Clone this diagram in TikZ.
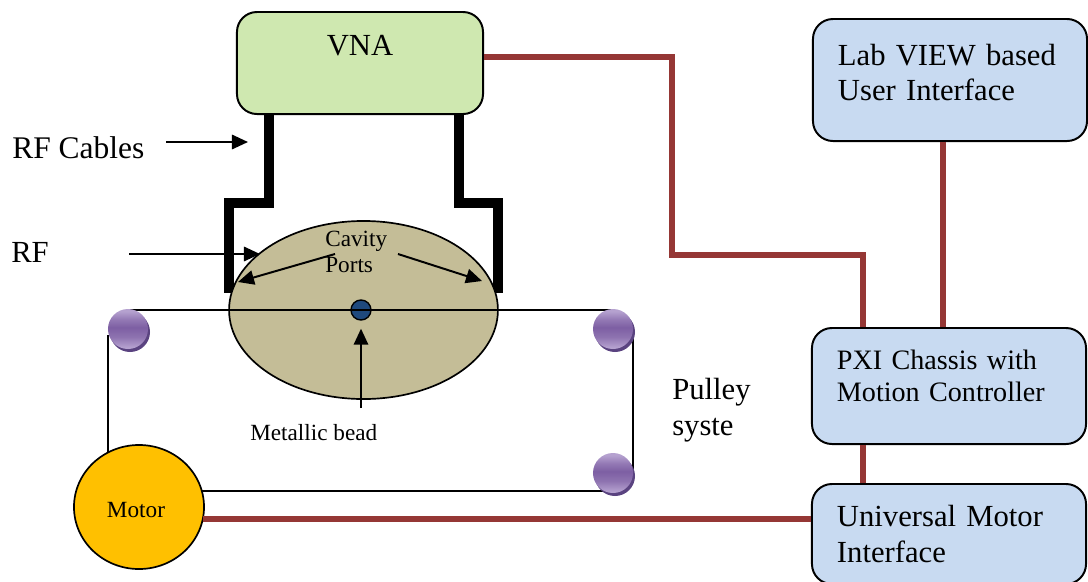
\documentclass[tikz,border=0pt]{standalone}
\usepackage{xcolor}
\usepackage{fontspec}
\setmainfont{Liberation Serif}
\usepackage{tikz}
\usetikzlibrary{arrows.meta}
\usetikzlibrary{calc}
\usetikzlibrary{shapes.geometric}
\definecolor{vnagreen}{HTML}{CFE8B0}
\definecolor{boxblue}{HTML}{C8DAF1}
\definecolor{linkred}{HTML}{953735}
\definecolor{cavitytan}{HTML}{C4BD97}
\definecolor{beadblue}{HTML}{1F497D}
\definecolor{motorgold}{HTML}{FFC000}
\definecolor{pulleydark}{HTML}{5A4380}
\definecolor{pulleymid}{HTML}{7D5FA3}
\definecolor{pulleylight}{HTML}{B5A1CF}
\pgfdeclareverticalshading{pulleyshade}{100bp}{
  color(0bp)=(pulleylight);
  color(27bp)=(pulleylight);
  color(40bp)=(pulleymid!70!pulleylight);
  color(52bp)=(pulleymid);
  color(62bp)=(pulleymid!60!pulleylight);
  color(72bp)=(pulleylight);
  color(100bp)=(pulleylight)}
\tikzset{
  bigtext/.style={font=\fontsize{21.8}{25.5}\selectfont},
  smalltext/.style={font=\fontsize{16.5}{19}\selectfont},
  ctrl/.style={draw=black, line width=1.4pt, rounded corners=0.5cm, fill=boxblue, align=left, inner xsep=0.625cm, inner ysep=0pt, text width=5.6cm, bigtext},
  link/.style={draw=linkred, line width=3.6pt},
  cable/.style={draw=black, line width=7.4pt, miter limit=10},
  wire/.style={draw=black, line width=1.3pt},
  pointer/.style={draw=black, line width=1.4pt, -{Triangle[length=0.4cm, width=0.36cm]}},
  pulley/.style={circle, minimum size=1cm, inner sep=0pt, shading=pulleyshade},
  pulleyback/.style={circle, minimum size=1cm, inner sep=0pt, fill=pulleydark}
}
\begin{document}
\begin{tikzpicture}[x=0.025cm, y=-0.025cm]
  \useasboundingbox (0,0) rectangle (1088,581);
  % boxes
  \node[draw=black, line width=1.4pt, rounded corners=0.5cm, fill=vnagreen, minimum width=6.15cm, inner ysep=0pt, bigtext, text height=1.075cm, text depth=1.475cm] (VNA) at (360,63) {VNA};
  \node[ctrl, text height=1.15cm, text depth=1.9cm] (LV) at (950,80) {Lab VIEW based\\User Interface};
  \node[ctrl, font=\fontsize{20}{23.4}\selectfont, text height=1.025cm, text depth=1.875cm] (PXI) at (949,386) {PXI Chassis with\\Motion Controller};
  \node[ctrl, text height=1.05cm, text depth=1.45cm, font=\fontsize{21.8}{26}\selectfont] (UMI) at (949,534) {Universal Motor\\Interface};
  % RF cables
  \coordinate (L1) at (269,114);
  \coordinate (L2) at (269,203);
  \coordinate (L3) at (229,203);
  \coordinate (L4) at (229,293);
  \coordinate (R1) at (459,114);
  \coordinate (R2) at (459,203);
  \coordinate (R3) at (498,203);
  \coordinate (R4) at (498,293);
  \draw[cable] (L1) -- (L2) -- (L3) -- (L4);
  \draw[cable] (R1) -- (R2) -- (R3) -- (R4);
  % cavity
  \node[ellipse, draw=black, line width=1.2pt, fill=cavitytan, minimum width=6.72cm, minimum height=4.45cm, inner sep=0pt] (CAV) at (363.5,310) {};
  % pulley wire
  \coordinate (W1) at (108,460);
  \coordinate (W2) at (108,335);
  \coordinate (W3) at (128,310);
  \coordinate (W4) at (613,310);
  \coordinate (W5) at (633,335);
  \coordinate (W6) at (633,470);
  \coordinate (W7) at (613,491);
  \coordinate (W8) at (190,491);
  \draw[wire] (W1) -- (W2);
  \draw[wire] (W3) -- (W4);
  \draw[wire] (W5) -- (W6);
  \draw[wire] (W7) -- (W8);
  % pulleys
  \node[pulleyback] (P1b) at (130,332) {};
  \node[pulley] (P1) at (128,329) {};
  \node[pulleyback] (P2b) at (615,332) {};
  \node[pulley] (P2) at (613,329) {};
  \node[pulleyback] (P3b) at (615,476) {};
  \node[pulley] (P3) at (613,473) {};
  % bead
  \node[circle, draw=black, line width=1pt, fill=beadblue, minimum size=0.5cm, inner sep=0pt] (BEAD) at (361,310) {};
  \draw[wire] (BEAD.west) -- (BEAD.east);
  % motor
  \node[ellipse, draw=black, line width=1.2pt, fill=motorgold, minimum width=3.25cm, minimum height=3.1cm, inner sep=0pt, smalltext] (MOT) at (139,507) {\raisebox{-0.26cm}[0pt][0pt]{\hspace{-0.15cm}Motor}};
  % links
  \coordinate (C1) at (672,57);
  \coordinate (C2) at (672,255);
  \coordinate (C3) at (863,255);
  \coordinate (C4) at (943,200);
  \coordinate (C5) at (203,519);
  \draw[link] (VNA.east |- C1) -- (C1) -- (C2) -- (C3) -- (PXI.north -| C3);
  \draw[link] (LV.south -| C4) -- (PXI.north -| C4);
  \draw[link] (PXI.south -| C3) -- (UMI.north -| C3);
  \draw[link] (C5) -- (UMI.west |- C5);
  % labels
  \node[anchor=west, inner sep=0pt, font=\fontsize{22.4}{26}\selectfont] (RFC) at (12,148) {RF Cables};
  \node[bigtext, anchor=west, inner sep=0pt] (RF) at (11,252) {RF};
  \node[smalltext, align=left, anchor=west, inner sep=0pt] (PORTS) at (325,252) {Cavity\\Ports};
  \node[smalltext, anchor=west, inner sep=0pt] (MB) at (250,433) {Metallic bead};
  \node[bigtext, align=left, anchor=west, inner sep=0pt] (PUL) at (672,410) {Pulley\\syste};
  % pointers
  \coordinate (A1) at (166,142);
  \coordinate (A2) at (248,142);
  \coordinate (A3) at (129,254);
  \coordinate (A4) at (260,254);
  \coordinate (A5) at (335,254);
  \coordinate (A6) at (238,282);
  \coordinate (A7) at (398,254);
  \coordinate (A8) at (482,281);
  \coordinate (A9) at (361,408);
  \draw[pointer] (A1) -- (A2);
  \draw[pointer] (A3) -- (A4);
  \draw[pointer] (A5) -- (A6);
  \draw[pointer] (A7) -- (A8);
  \draw[pointer, shorten >=0.2cm] (A9) -- (BEAD.south);
\end{tikzpicture}
\end{document}
